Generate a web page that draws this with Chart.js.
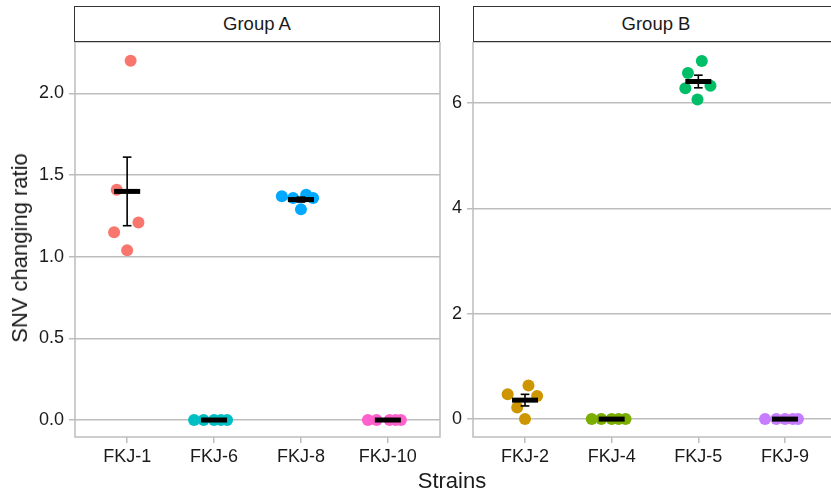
<!DOCTYPE html>
<html>
<head>
<meta charset="utf-8">
<script src="https://cdn.jsdelivr.net/npm/chart.js@4/dist/chart.umd.min.js"></script>
<style>
html, body { margin:0; padding:0; background:#fff; overflow:hidden; width:831px; height:496px; }
body { position:relative; font-family:"Liberation Sans", Arial, sans-serif; color:#1a1a1a; }
canvas { position:absolute; }
.strip { position:absolute; top:6px; height:36px; width:366px; box-sizing:border-box; border:1.3px solid #333; background:#fff; font-size:18.5px; line-height:33px; text-align:center; }
#ytitle { position:absolute; left:20px; top:248px; transform:translate(-50%,-50%) rotate(-90deg); font-size:22px; white-space:nowrap; }
#xtitle { position:absolute; left:452px; top:481px; transform:translate(-50%,-50%); font-size:22px; white-space:nowrap; }
</style>
</head>
<body>
<div class="strip" style="left:74px">Group A</div>
<div class="strip" style="left:473px">Group B</div>
<canvas id="panelA" width="444" height="454" style="left:0;top:42px"></canvas>
<canvas id="panelB" width="400" height="454" style="left:441px;top:42px"></canvas>
<div id="ytitle">SNV changing ratio</div>
<div id="xtitle">Strains</div>
<script>
// -------------------
// DATA
// -------------------
var strainsA = ['FKJ-1', 'FKJ-6', 'FKJ-8', 'FKJ-10'];
var strainsB = ['FKJ-2', 'FKJ-4', 'FKJ-5', 'FKJ-9'];

// ratios per replicate
var fkj1  = [2.20, 1.41, 1.21, 1.15, 1.04];
var fkj6  = [0, 0, 0, 0, 0];
var fkj8  = [1.37, 1.36, 1.38, 1.36, 1.29];
var fkj10 = [0, 0, 0, 0, 0];
var fkj2  = [0.64, 0.47, 0.44, 0.22, 0.00];
var fkj4  = [0, 0, 0, 0, 0];
var fkj5  = [6.80, 6.57, 6.28, 6.33, 6.07];
var fkj9  = [0, 0, 0, 0, 0];

// horizontal jitter of each dot (category units)
var jit1  = [0.04, -0.12, 0.13, -0.15, 0.00];
var jit6  = [-0.23, -0.12, 0.00, 0.08, 0.15];
var jit8  = [-0.22, -0.09, 0.06, 0.14, 0.00];
var jit10 = [-0.23, -0.13, 0.02, 0.09, 0.15];
var jit2  = [0.04, -0.20, 0.14, -0.09, 0.00];
var jit4  = [-0.23, -0.12, 0.00, 0.08, 0.16];
var jit5  = [0.04, -0.12, -0.15, 0.14, -0.01];
var jit9  = [-0.23, -0.10, 0.00, 0.09, 0.15];

// mean and standard error per strain
var meanA = [1.40, 0, 1.35, 0];
var seA   = [0.21, 0, 0.015, 0];
var meanB = [0.36, 0, 6.41, 0];
var seB   = [0.11, 0, 0.12, 0];

var yTicksA = [0, 0.5, 1.0, 1.5, 2.0];
var yTicksB = [0, 2, 4, 6];

// ggplot hue palette
var colorsA = ['#F8766D', '#00BFC4', '#00A9FF', '#FF61CC'];
var colorsB = ['#CD9600', '#7CAE00', '#00BE67', '#C77CFF'];

// -------------------
// CHART
// -------------------
const gridColor = '#bdbdbd';
const textColor = '#1a1a1a';

const panelBorder = {
    id: 'panelBorder',
    beforeDatasetsDraw(chart) {
        const a = chart.chartArea;
        const c = chart.ctx;
        c.save();
        c.strokeStyle = gridColor;
        c.lineWidth = 1.5;
        c.strokeRect(a.left, a.top, a.right - a.left, a.bottom - a.top);
        c.restore();
    }
};

function seg(x1, x2, y1, y2, width, order) {
    return {
        type: 'scatter',
        showLine: true,
        data: [{x: x1, y: y1}, {x: x2, y: y2}],
        borderColor: '#000',
        borderWidth: width,
        borderCapStyle: 'butt',
        pointRadius: 0,
        order: order,
    };
}

function makePanel(id, strains, values, jitters, means, ses, colors, yMin, yMax, yTicks, yDigits, xMax, yWidth) {
    var datasets = [];
    strains.forEach(function (s, i) {
        datasets.push({
            type: 'scatter',
            label: s,
            data: values[i].map(function (v, j) { return {x: i + 1 + jitters[i][j], y: v}; }),
            backgroundColor: colors[i],
            borderWidth: 0,
            pointRadius: 6,
            order: 3,
        });
    });
    strains.forEach(function (s, i) {
        var x = i + 1, lo = means[i] - ses[i], hi = means[i] + ses[i];
        datasets.push(seg(x, x, lo, hi, 1.6, 2));
        datasets.push(seg(x - 0.05, x + 0.05, hi, hi, 1.6, 2));
        datasets.push(seg(x - 0.05, x + 0.05, lo, lo, 1.6, 2));
        datasets.push(seg(x - 0.15, x + 0.15, means[i], means[i], 5, 1));
    });

    return new Chart(document.getElementById(id), {
        type: 'scatter',
        data: { datasets: datasets },
        plugins: [panelBorder],
        options: {
            responsive: false,
            animation: false,
            devicePixelRatio: 1,
            layout: { autoPadding: false, padding: { left: 0, right: 4, top: 0, bottom: 0 } },
            plugins: { legend: { display: false }, tooltip: { enabled: false } },
            scales: {
                x: {
                    type: 'linear',
                    min: 0.4,
                    max: xMax,
                    afterBuildTicks: function (scale) {
                        scale.ticks = strains.map(function (s, i) { return {value: i + 1}; });
                    },
                    afterFit: function (scale) {
                        scale.height = 59;
                        scale.paddingLeft = 0;
                        scale.paddingRight = 0;
                    },
                    border: { display: false },
                    grid: { drawOnChartArea: false, drawTicks: true, tickLength: 6, color: gridColor, lineWidth: 1.5 },
                    ticks: {
                        padding: 3,
                        color: textColor,
                        font: { family: 'Liberation Sans', size: 18 },
                        maxRotation: 0,
                        autoSkip: false,
                        callback: function (value) { return strains[Math.round(value) - 1]; },
                    },
                },
                y: {
                    min: yMin,
                    max: yMax,
                    afterBuildTicks: function (scale) {
                        scale.ticks = yTicks.map(function (v) { return {value: v}; });
                    },
                    afterFit: function (scale) {
                        scale.width = yWidth;
                        scale.paddingTop = 0;
                        scale.paddingBottom = 0;
                    },
                    border: { display: false },
                    grid: { drawTicks: true, tickLength: 6, color: gridColor, lineWidth: 1.5 },
                    ticks: {
                        padding: 5,
                        color: textColor,
                        font: { family: 'Liberation Sans', size: 18 },
                        callback: function (value) { return value.toFixed(yDigits); },
                    },
                },
            },
        },
    });
}

makePanel('panelA', strainsA, [fkj1, fkj6, fkj8, fkj10], [jit1, jit6, jit8, jit10],
    meanA, seA, colorsA, -0.104, 2.315, yTicksA, 1, 4.6, 75);
makePanel('panelB', strainsB, [fkj2, fkj4, fkj5, fkj9], [jit2, jit4, jit5, jit9],
    meanB, seB, colorsB, -0.34, 7.16, yTicksB, 0, 4.6, 32);
</script>
</body>
</html>
